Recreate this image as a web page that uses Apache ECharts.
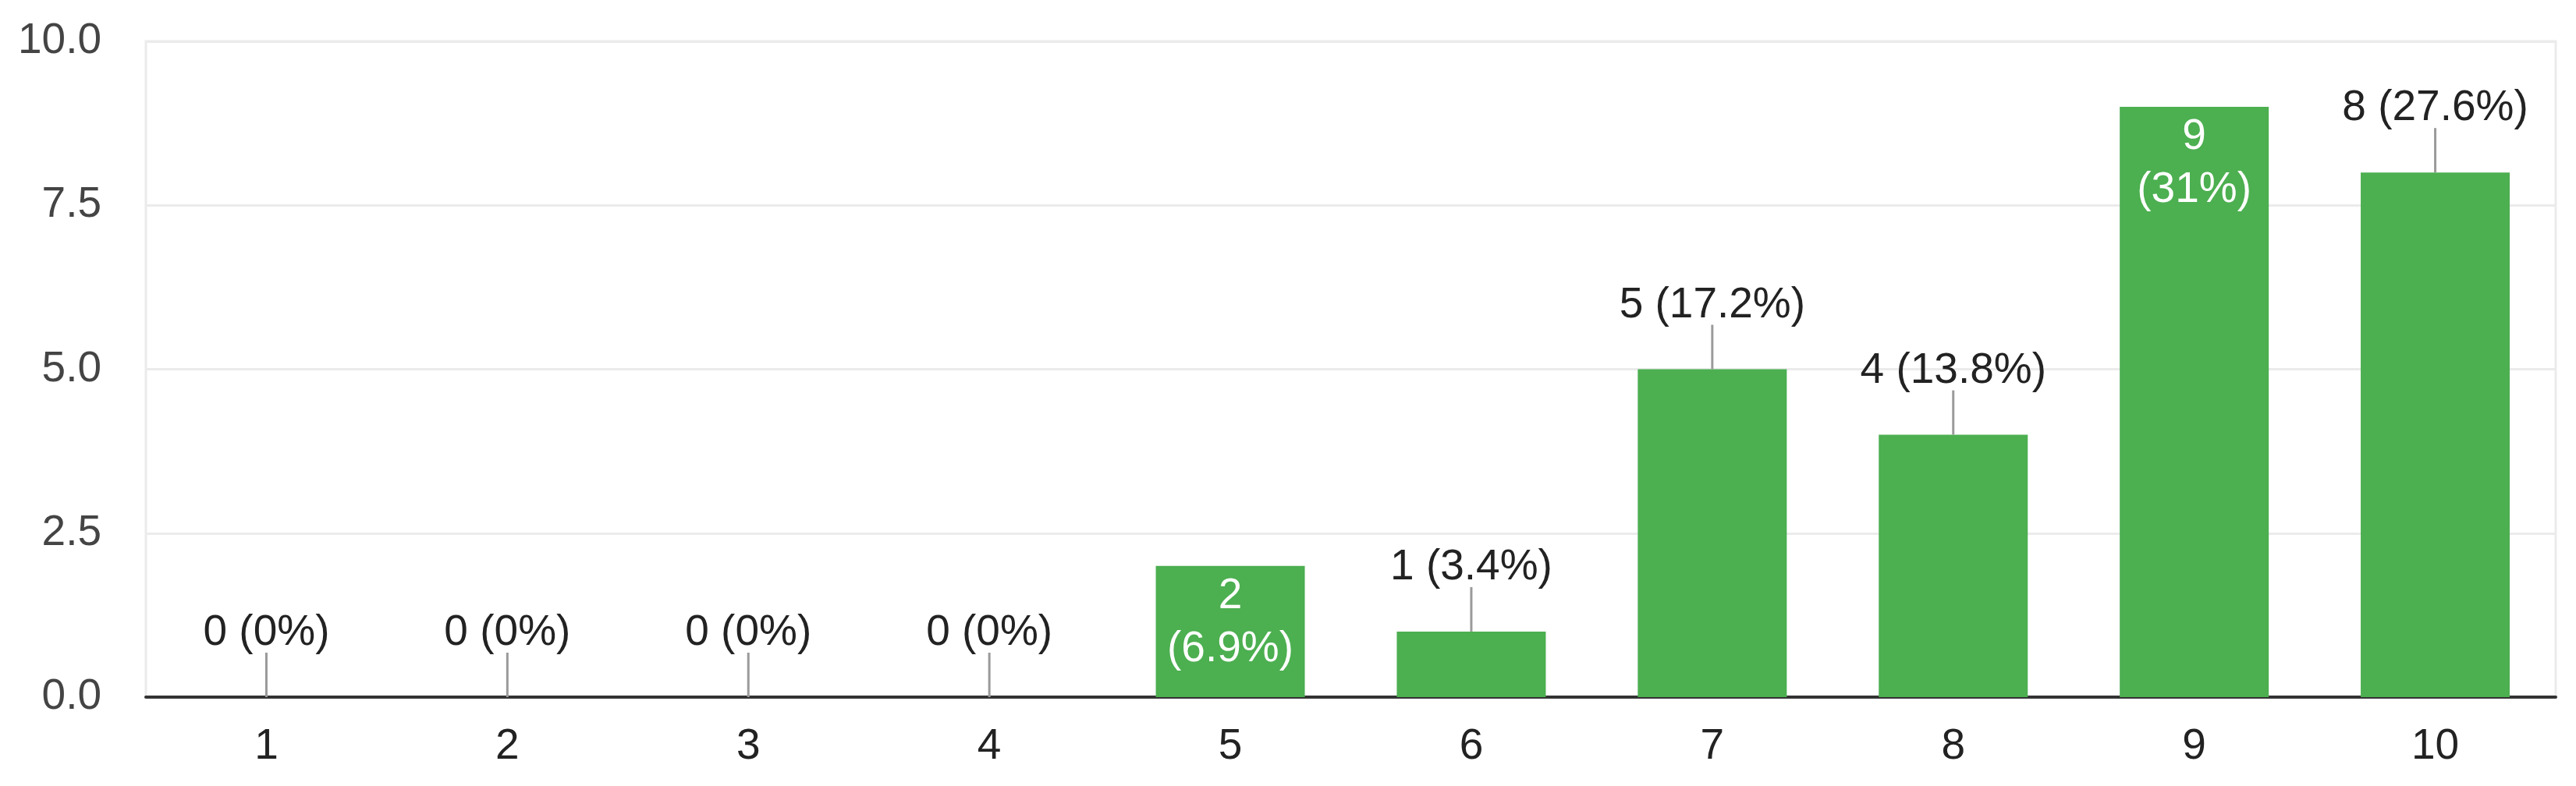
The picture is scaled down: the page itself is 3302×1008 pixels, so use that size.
<!DOCTYPE html>
<html>
<head>
<meta charset="utf-8">
<script src="https://cdn.jsdelivr.net/npm/echarts@6/dist/echarts.min.js"></script>
<style>
html,body{margin:0;padding:0;background:#fff;}
#chart{width:3302px;height:1008px;}
</style>
</head>
<body>
<div id="chart"></div>
<script>
// ---- data ----
const categories = ['1','2','3','4','5','6','7','8','9','10'];
const counts = [0, 0, 0, 0, 2, 1, 5, 4, 9, 8];
const percents = ['0%','0%','0%','0%','6.9%','3.4%','17.2%','13.8%','31%','27.6%'];
const insideLabelCategories = ['5','9'];
const yTicks = [0, 2.5, 5, 7.5, 10];

const FONT = '"Liberation Sans", Arial, sans-serif';
const GREEN = '#4caf50';

const barData = counts.map((v, i) => ({
  value: v,
  label: { show: insideLabelCategories.includes(categories[i]) }
}));
const outsideData = [];
counts.forEach((v, i) => {
  if (!insideLabelCategories.includes(categories[i])) outsideData.push([i, v, counts[i] + ' (' + percents[i] + ')']);
});

const chart = echarts.init(document.getElementById('chart'), null, {renderer: 'canvas'});
chart.setOption({
  animation: false,
  backgroundColor: '#fff',
  grid: {
    left: 187, right: 26, top: 53, bottom: 114,
    show: true, borderColor: '#ebebeb', borderWidth: 3
  },
  xAxis: {
    type: 'category',
    data: categories,
    axisLine: { show: true, lineStyle: { color: '#333', width: 4 } },
    axisTick: { show: false },
    axisLabel: { color: '#222', fontSize: 55, fontFamily: FONT, margin: 36 },
    splitLine: { show: false }
  },
  yAxis: {
    type: 'value',
    min: yTicks[0], max: yTicks[yTicks.length - 1], interval: yTicks[1] - yTicks[0],
    axisLine: { show: false },
    axisTick: { show: false },
    axisLabel: { color: '#444', fontSize: 55, fontFamily: FONT, margin: 57,
      formatter: v => v.toFixed(1) },
    splitLine: { show: true, lineStyle: { color: '#ebebeb', width: 3 } }
  },
  series: [
    {
      type: 'bar',
      data: barData,
      barWidth: 191,
      itemStyle: { color: GREEN },
      label: {
        position: 'insideTop',
        distance: 5,
        color: '#fff',
        fontSize: 55,
        lineHeight: 68,
        fontFamily: FONT,
        formatter: p => counts[p.dataIndex] + '\n(' + percents[p.dataIndex] + ')'
      },
      z: 2
    },
    {
      type: 'custom',
      data: outsideData,
      encode: { x: 0, y: 1 },
      z: 3,
      renderItem: (params, api) => {
        const p = api.coord([api.value(0), api.value(1)]);
        const txt = outsideData[params.dataIndex][2];
        return {
          type: 'group',
          children: [
            { type: 'line', shape: { x1: p[0], y1: p[1], x2: p[0], y2: p[1] - 57 },
              style: { stroke: '#9a9a9a', lineWidth: 3 } },
            { type: 'text', style: { text: txt, x: p[0], y: p[1] - 82, align: 'center', verticalAlign: 'middle',
              fontSize: 55, fontFamily: FONT, fill: '#222' } }
          ]
        };
      }
    }
  ]
});
</script>
</body>
</html>
